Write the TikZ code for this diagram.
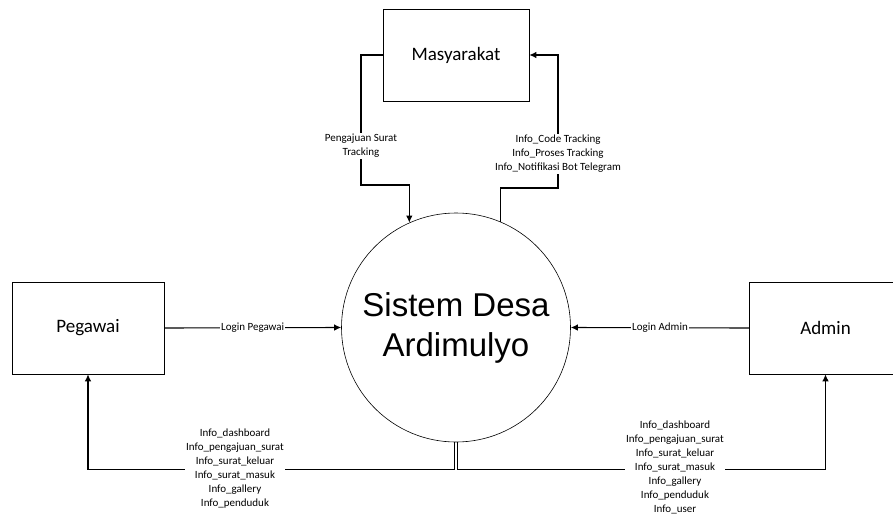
\documentclass[tikz,border=0pt]{standalone}
\usepackage{fontspec}
\setmainfont{Carlito}
\newfontfamily\arialfont{Liberation Sans}
\usepackage{tikz}
\usetikzlibrary{arrows.meta,calc}

\begin{document}
\begin{tikzpicture}[>={Latex[length=7pt,width=6.5pt]}, x=1pt, y=-1pt, line width=1.1pt]

% Styles for entities, process and flow labels
\tikzstyle{entity} = [draw, line width=0.6pt, rectangle, minimum width=152pt, minimum height=92pt, inner sep=0pt, font=\fontsize{19}{22}\selectfont]
\tikzstyle{process} = [draw, line width=0.6pt, circle, minimum size=229pt, inner sep=0pt, align=center, font=\arialfont\fontsize{33}{40}\selectfont]
\tikzstyle{flowlabel} = [fill=white, inner sep=1pt, align=center, font=\fontsize{11}{14}\selectfont]

% Page frame
\clip (0,0) rectangle (893,514);

% Nodes
\node[process] (sys) at (456,327.5) {Sistem Desa\\Ardimulyo};
\node[entity, minimum width=146pt] (masy) at (456,55) {Masyarakat};
\node[entity] (peg) at (88,328) {Pegawai};
\node[entity] (adm) at (825.5,328) {Admin};

% Masyarakat <-> Sistem
\draw[->] (masy.west) -| (361,185) -| (sys.114.8);
\node[flowlabel] (lblreq) at (361,146) {Pengajuan Surat\\Tracking};
\draw[->] (sys.67.9) |- (558,188) |- (masy.east);
\node[flowlabel] (lblinfo) at (558,154) {Info\_Code Tracking\\Info\_Proses Tracking\\Info\_Notifikasi Bot Telegram};

% Login flows
\draw[->] (peg.east) -- (sys.west) node[flowlabel, midway] {Login Pegawai};
\draw[->] (adm.west) -- (sys.east) node[flowlabel, midway] {Login Admin};

% Info flows back to Pegawai and Admin
\draw[->] ([xshift=-1.5pt]sys.south) -- ++(0,27) -| (peg.south);
\node[flowlabel] (lblpeg) at (235,468.5) {Info\_dashboard\\Info\_pengajuan\_surat\\Info\_surat\_keluar\\Info\_surat\_masuk\\Info\_gallery\\Info\_penduduk};
\draw[->] ([xshift=1.5pt]sys.south) -- ++(0,27) -| (adm.south);
\node[flowlabel] (lbladm) at (675,467.5) {Info\_dashboard\\Info\_pengajuan\_surat\\Info\_surat\_keluar\\Info\_surat\_masuk\\Info\_gallery\\Info\_penduduk\\Info\_user};

\end{tikzpicture}
\end{document}
